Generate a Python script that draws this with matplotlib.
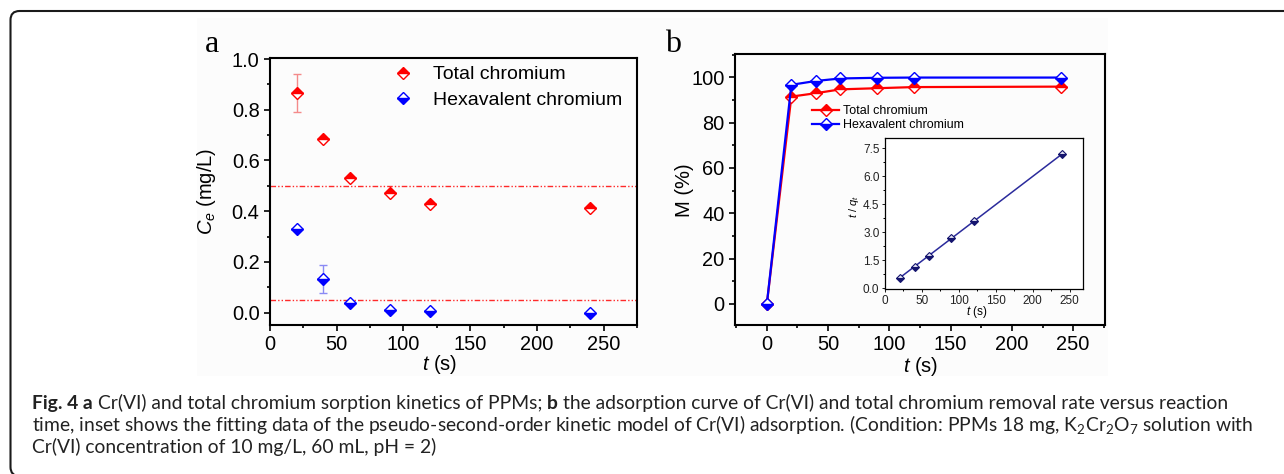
import numpy as np
import matplotlib
matplotlib.use('Agg')
import matplotlib.pyplot as plt
from matplotlib.ticker import MultipleLocator, FormatStrFormatter
from matplotlib.patches import FancyBboxPatch, Rectangle

# ---------------- data ----------------
t_a = [20, 40, 60, 90, 120, 240]
total_ce = [0.866, 0.686, 0.530, 0.471, 0.428, 0.414]
total_ce_err = [0.075, 0, 0, 0, 0, 0]
hex_ce = [0.330, 0.132, 0.037, 0.011, 0.007, -0.003]
hex_ce_err = [0, 0.054, 0, 0, 0, 0]
limits = [0.5, 0.05]

t_b = [0, 20, 40, 60, 90, 120, 240]
total_m = [0, 91.5, 93.0, 94.7, 95.2, 95.7, 95.9]
hex_m = [0, 96.7, 98.4, 99.5, 99.8, 99.9, 99.9]

t_in = [20, 40, 60, 90, 120, 240]
t_over_q = [0.57, 1.16, 1.75, 2.68, 3.59, 7.20]

labels = ["Total chromium", "Hexavalent chromium"]
caption_line1 = [("Fig. 4 a", 'bold'),
                 ("Cr(VI) and total chromium sorption kinetics of PPMs;", 'normal'),
                 ("b", 'bold'),
                 ("the adsorption curve of Cr(VI) and total chromium removal rate versus reaction", 'normal')]
caption_line2 = r"time, inset shows the fitting data of the pseudo-second-order kinetic model of Cr(VI) adsorption. (Condition: PPMs 18 mg, K$_2$Cr$_2$O$_7$ solution with"
caption_line3 = "Cr(VI) concentration of 10 mg/L, 60 mL, pH = 2)"

# ---------------- style ----------------
plt.rcParams['font.family'] = ['Liberation Sans', 'DejaVu Sans']
plt.rcParams['mathtext.fontset'] = 'custom'
plt.rcParams['mathtext.rm'] = 'Lato'
plt.rcParams['mathtext.it'] = 'Liberation Sans:italic'
plt.rcParams['mathtext.bf'] = 'Lato:bold'

W, H = 1284, 474
fig = plt.figure(figsize=(W / 100, H / 100), dpi=100)
fig.patch.set_facecolor('white')

def fx(px):
    return px / W

def fy(py):
    return 1 - py / H

RED = '#ff0000'
BLUE = '#0000ff'

# background of the chart image and rounded frame
fig.add_artist(Rectangle((197, H - 376), 911, 358, transform=None,
                         facecolor='#fcfcfc', edgecolor='none', zorder=-5))
fig.add_artist(FancyBboxPatch((10.5, -2), 1400, H - 11 + 2,
                              boxstyle='round,pad=0,rounding_size=9',
                              transform=None, facecolor='none',
                              edgecolor='#1a1a1a', lw=1.5, zorder=-4))

def style_axes(ax, lw=1.5, labelsize=14.4, major=4, minor=2.5, pad=3.5):
    for s in ax.spines.values():
        s.set_linewidth(lw)
    ax.tick_params(which='both', direction='out', top=False, right=False,
                   width=lw * 0.8, labelsize=labelsize, pad=pad)
    ax.tick_params(which='major', length=major)
    ax.tick_params(which='minor', length=minor)
    ax.set_facecolor('none')

# ---------------- panel a ----------------
axa = fig.add_axes([fx(270), fy(325), fx(367), 267 / H])
style_axes(axa)
axa.set_xlim(0, 275)
axa.set_ylim(-0.049, 1.004)
axa.xaxis.set_major_locator(MultipleLocator(50))
axa.xaxis.set_minor_locator(MultipleLocator(25))
axa.yaxis.set_major_locator(MultipleLocator(0.2))
axa.yaxis.set_minor_locator(MultipleLocator(0.1))
axa.yaxis.set_major_formatter(FormatStrFormatter('%.1f'))

for yv in limits:
    axa.axhline(yv, color='#ff2a2a', lw=1.0, dashes=(4, 1.5, 1, 1.5, 1, 1.5), zorder=1)

ta = np.array(t_a)
te = np.array(total_ce_err)
he = np.array(hex_ce_err)
m1 = te > 0
m2 = he > 0
axa.errorbar(ta[m1], np.array(total_ce)[m1], yerr=te[m1], fmt='none',
             ecolor='#f48a8a', elinewidth=1.0, capsize=3, capthick=1.0, zorder=2)
axa.errorbar(ta[m2], np.array(hex_ce)[m2], yerr=he[m2], fmt='none',
             ecolor='#8a8af4', elinewidth=1.0, capsize=3, capthick=1.0, zorder=2)
ha1, = axa.plot(t_a, total_ce, linestyle='none', marker='D', ms=6.5, mew=1.0,
                color=RED, fillstyle='top', markerfacecoloralt='white',
                label=labels[0], zorder=3)
ha2, = axa.plot(t_a, hex_ce, linestyle='none', marker='D', ms=6.5, mew=1.0,
                color=BLUE, fillstyle='bottom', markerfacecoloralt='white',
                label=labels[1], zorder=3)
axa.legend(handles=[ha1, ha2], loc='upper left', bbox_to_anchor=(0.336, 0.971),
           frameon=False, fontsize=14, handlelength=1.0, handletextpad=1.05,
           labelspacing=0.4, borderpad=0, borderaxespad=0, numpoints=1)

fig.text(fx(207), fy(191), r'$C_e$ (mg/L)', rotation=90, ha='center', va='center', fontsize=14.5)
fig.text(fx(440), fy(365), r'$t$ (s)', ha='center', va='center', fontsize=14.5)
fig.text(fx(205), fy(52), 'a', family='Liberation Serif', fontsize=23, ha='left', va='baseline')

# ---------------- panel b ----------------
axb = fig.add_axes([fx(735), fy(325), fx(370), 271 / H])
style_axes(axb)
axb.set_xlim(-26, 276)
axb.set_ylim(-9.3, 110.3)
axb.xaxis.set_major_locator(MultipleLocator(50))
axb.xaxis.set_minor_locator(MultipleLocator(25))
axb.yaxis.set_major_locator(MultipleLocator(20))
axb.yaxis.set_minor_locator(MultipleLocator(10))

hb1, = axb.plot(t_b, total_m, color=RED, lw=1.6, marker='D', ms=6.5, mew=1.0,
                fillstyle='top', markerfacecoloralt='white', label=labels[0], zorder=3)
hb2, = axb.plot(t_b, hex_m, color=BLUE, lw=1.6, marker='D', ms=6.5, mew=1.0,
                fillstyle='bottom', markerfacecoloralt='white', label=labels[1], zorder=3)
axb.legend(handles=[hb1, hb2], loc='upper left',
           bbox_to_anchor=((812 - 735) / 370, (325 - 105) / 271),
           frameon=False, fontsize=9, handlelength=2.16, handletextpad=0.32,
           labelspacing=0.15, borderpad=0, borderaxespad=0)

fig.text(fx(685), fy(190), 'M (%)', rotation=90, ha='center', va='center', fontsize=14.5)
fig.text(fx(921), fy(367), r'$t$ (s)', ha='center', va='center', fontsize=14.5)
fig.text(fx(665), fy(52), 'b', family='Liberation Serif', fontsize=23, ha='left', va='baseline')

# ---------------- inset ----------------
axi = fig.add_axes([fx(885), fy(289), fx(198), 151 / H])
style_axes(axi, lw=0.9, labelsize=8.5, major=2.5, minor=1.5, pad=1.5)
axi.tick_params(colors='#222222')
axi.set_facecolor('white')
axi.set_xlim(0, 268)
axi.set_ylim(-0.04, 8.05)
axi.xaxis.set_major_locator(MultipleLocator(50))
axi.xaxis.set_minor_locator(MultipleLocator(25))
axi.yaxis.set_major_locator(MultipleLocator(1.5))
axi.yaxis.set_minor_locator(MultipleLocator(0.75))
axi.yaxis.set_major_formatter(FormatStrFormatter('%.1f'))
coef = np.polyfit(t_in, t_over_q, 1)
tt = np.array([t_in[0], t_in[-1]])
axi.plot(tt, np.polyval(coef, tt), color='#2b2b9c', lw=1.1, zorder=2)
axi.plot(t_in, t_over_q, linestyle='none', marker='D', ms=3.8, mew=0.8,
         color='#15156e', fillstyle='bottom', markerfacecoloralt='#e4e4f4', zorder=3)
fig.text(fx(854), fy(207), r'$t$ / $q_t$', rotation=90, ha='center', va='center', fontsize=8)
fig.text(fx(977), fy(312.5), r'$t$ (s)', ha='center', va='center', fontsize=8.5)

# ---------------- caption ----------------
CAP_COLOR = '#222222'
r = fig.canvas.get_renderer()

def text_w(s, fs, weight):
    t = fig.text(0, 0, s, family='Lato', fontsize=fs, weight=weight)
    w = t.get_window_extent(r).width
    t.remove()
    return w

def place_runs(runs, x0, base, fs):
    x = x0
    made = []
    for i, (s, weight) in enumerate(runs):
        if i > 0:
            x += text_w('x x', fs, 'normal') - text_w('xx', fs, 'normal')
        t = fig.text(fx(x), fy(base), s, family='Lato', fontsize=fs, weight=weight,
                     color=CAP_COLOR, ha='left', va='baseline')
        x += t.get_window_extent(r).width
        made.append(t)
    return made, x - x0

tmp, w1 = place_runs(caption_line1, 32, 409, 12)
for t in tmp:
    t.remove()
fs = 12 * 1208 / w1 * 0.99
place_runs(caption_line1, 32, 409, fs)
fig.text(fx(32), fy(431), caption_line2, family='Lato', fontsize=fs,
         color=CAP_COLOR, ha='left', va='baseline')
fig.text(fx(32), fy(453), caption_line3, family='Lato', fontsize=fs,
         color=CAP_COLOR, ha='left', va='baseline')

fig.savefig('out.png', dpi=100, facecolor='white')
